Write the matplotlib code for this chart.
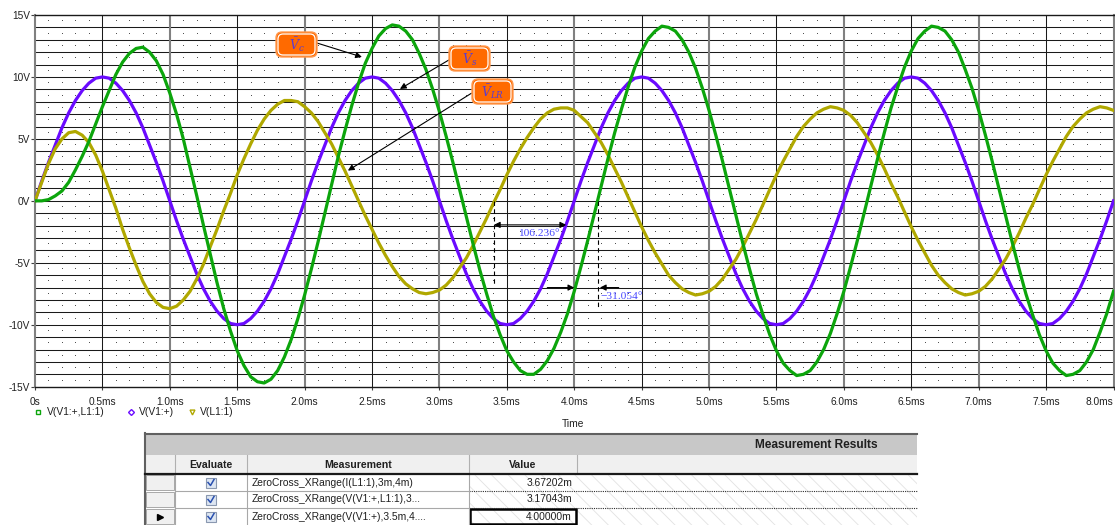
import numpy as np
import matplotlib
matplotlib.use('Agg')
import matplotlib.pyplot as plt
from matplotlib.patches import Rectangle, FancyBboxPatch

plt.rcParams['font.family'] = ['Liberation Sans', 'DejaVu Sans']
plt.rcParams['mathtext.fontset'] = 'dejavuserif'
plt.rcParams['hatch.linewidth'] = 0.6

# ---------------- data (0.05 ms steps) ----------------
time_ms = [round(i * 0.05, 2) for i in range(161)]
_period = [0.0, 1.6, 3.1, 4.5, 5.9, 7.1, 8.1, 8.9, 9.5, 9.9, 10.0, 9.9, 9.5, 8.9, 8.1, 7.1, 5.9, 4.5, 3.1, 1.6,
           0.0, -1.6, -3.1, -4.5, -5.9, -7.1, -8.1, -8.9, -9.5, -9.9, -10.0, -9.9, -9.5, -8.9, -8.1, -7.1, -5.9,
           -4.5, -3.1, -1.6]
v_source = _period * 4 + [0.0]
v_c = [0.0,0.0,0.1,0.4,0.8,1.5,2.5,3.6,4.8,6.2,7.6,8.9,10.2,11.2,11.9,12.3,12.4,12.0,11.3,10.2,8.7,7.0,5.0,2.7,0.4,
       -2.0,-4.3,-6.6,-8.7,-10.5,-12.1,-13.3,-14.2,-14.6,-14.7,-14.4,-13.7,-12.6,-11.2,-9.5,-7.6,-5.5,-3.3,-1.0,1.3,
       3.6,5.7,7.7,9.5,11.1,12.3,13.3,13.9,14.2,14.1,13.7,13.0,11.9,10.6,9.0,7.2,5.2,3.1,0.9,-1.3,-3.5,-5.6,-7.5,
       -9.3,-10.8,-12.1,-13.0,-13.7,-14.0,-14.0,-13.6,-12.9,-11.9,-10.6,-9.1,-7.3,-5.3,-3.2,-1.0,1.2,3.4,5.5,7.4,
       9.2,10.8,12.1,13.1,13.7,14.1,14.0,13.7,13.0,12.0,10.7,9.1,7.3,5.3,3.2,1.0,-1.2,-3.4,-5.5,-7.5,-9.2,-10.8,
       -12.1,-13.1,-13.7,-14.1,-14.0,-13.7,-13.0,-12.0,-10.7,-9.1,-7.3,-5.3,-3.2,-1.0,1.2,3.4,5.5,7.5,9.2,10.8,
       12.1,13.1,13.7,14.1,14.0,13.7,13.0,12.0,10.6,9.1,7.3,5.3,3.2,1.0,-1.2,-3.4,-5.5,-7.5,-9.2,-10.8,-12.1,
       -13.1,-13.7,-14.1,-14.0,-13.7,-13.0,-12.0,-10.6,-9.1,-7.3]
v_lr = [0.0,1.5,3.0,4.2,5.0,5.5,5.6,5.3,4.7,3.7,2.4,0.9,-0.6,-2.3,-3.8,-5.2,-6.5,-7.5,-8.2,-8.6,-8.7,-8.5,-8.0,-7.3,
        -6.3,-5.1,-3.7,-2.3,-0.8,0.6,2.1,3.4,4.6,5.7,6.6,7.3,7.8,8.1,8.1,8.0,7.6,7.1,6.4,5.5,4.6,3.5,2.4,1.2,0.0,
        -1.2,-2.3,-3.4,-4.4,-5.3,-6.1,-6.7,-7.1,-7.4,-7.5,-7.4,-7.2,-6.8,-6.2,-5.4,-4.6,-3.6,-2.5,-1.4,-0.2,0.9,
        2.1,3.2,4.2,5.1,5.9,6.6,7.1,7.4,7.5,7.5,7.3,6.8,6.3,5.5,4.7,3.7,2.6,1.5,0.3,-0.9,-2.1,-3.2,-4.2,-5.1,-6.0,
        -6.6,-7.1,-7.4,-7.6,-7.5,-7.3,-6.9,-6.3,-5.5,-4.7,-3.7,-2.6,-1.5,-0.3,0.9,2.1,3.2,4.2,5.2,6.0,6.6,7.1,7.4,
        7.6,7.5,7.3,6.9,6.3,5.5,4.7,3.7,2.6,1.4,0.3,-0.9,-2.1,-3.2,-4.2,-5.2,-6.0,-6.6,-7.1,-7.4,-7.6,-7.5,-7.3,
        -6.9,-6.3,-5.5,-4.7,-3.7,-2.6,-1.4,-0.3,0.9,2.1,3.2,4.2,5.2,6.0,6.6,7.1,7.4,7.6,7.5,7.3]

series_labels = ['V(V1:+,L1:1)', 'V(V1:+)', 'V(L1:1)']
x_ticks = [i * 0.5 for i in range(17)]
x_tick_labels = ['0s'] + [f'{x:.1f}ms' for x in x_ticks[1:]]
y_ticks = [-15, -10, -5, 0, 5, 10, 15]
y_tick_labels = [f'{v}V' for v in y_ticks]
phase_labels = ['106.236°', '\u221231.054°']
meas_names = ['ZeroCross_XRange(I(L1:1),3m,4m)',
              'ZeroCross_XRange(V(V1:+,L1:1),3...',
              'ZeroCross_XRange(V(V1:+),3.5m,4....']
meas_values = ['3.67202m', '3.17043m', '4.00000m']

# ---------------- figure ----------------
W, H = 1115, 525
fig = plt.figure(figsize=(W / 100, H / 100), dpi=100)
fig.patch.set_facecolor('white')
x0, x1, ytop, ybot = 35, 1113.5, 15, 386.7
ax = fig.add_axes([x0 / W, 1 - ybot / H, (x1 - x0) / W, (ybot - ytop) / H])
ax.set_xlim(0, 8)
ax.set_ylim(-15, 15)

for v in range(-14, 15):
    ax.axhline(v, color='#1a1a1a', lw=0.75, zorder=1)
for i in range(1, 16):
    xv = i * 0.5
    if i % 2:
        ax.axvline(xv, color='#1a1a1a', lw=0.75, zorder=1)
    else:
        ax.axvline(xv, color='#808080', lw=1.5, zorder=1)
dt = [k * 0.1 for k in range(1, 80) if k % 5]
dv = [j * 0.5 for j in range(-29, 30) if j % 2]
gx, gy = np.meshgrid(dt, dv)
ax.plot(gx.ravel(), gy.ravel(), ',', color='#505050', zorder=1)

for s in ['left', 'right']:
    ax.spines[s].set_color('#808080'); ax.spines[s].set_linewidth(1.5)
for s in ['top', 'bottom']:
    ax.spines[s].set_color('#1a1a1a'); ax.spines[s].set_linewidth(1.0)

ax.plot(time_ms, v_source, color='#6a0aff', lw=2.3, zorder=3)
ax.plot(time_ms, v_lr, color='#b0a800', lw=2.3, zorder=3)
ax.plot(time_ms, v_c, color='#0ca50c', lw=2.3, zorder=4)

ax.set_xticks(x_ticks)
ax.set_xticklabels(x_tick_labels)
ax.get_xticklabels()[-1].set_horizontalalignment('right')
ax.set_yticks(y_ticks)
ax.set_yticklabels(y_tick_labels)
ax.tick_params(axis='x', length=2.5, width=0.8, color='#404040', labelsize=7.3, pad=5, labelcolor='#202020')
ax.tick_params(axis='y', length=3, width=0.8, color='#404040', labelsize=7.3, pad=0.5, labelcolor='#202020')

# phase measurement annotations
ax.plot([3.404, 3.404], [0, -6.9], color='k', lw=0.8, dashes=(4, 3), zorder=5)
ax.plot([4.175, 4.175], [0, -8.6], color='k', lw=0.8, dashes=(4, 3), zorder=5)
ap = dict(color='k', lw=0.8, mutation_scale=9, shrinkA=0, shrinkB=0)
ax.annotate('', xy=(3.404, -1.94), xytext=(3.94, -1.94), arrowprops=dict(arrowstyle='<|-|>', **ap), zorder=6)
ax.annotate('', xy=(4.0, -7.0), xytext=(3.8, -7.0), arrowprops=dict(arrowstyle='-|>', **ap), zorder=6)
ax.annotate('', xy=(4.19, -7.0), xytext=(4.33, -7.0), arrowprops=dict(arrowstyle='-|>', **ap), zorder=6)
ax.text(3.737, -2.66, phase_labels[0], color='#4646ff', fontsize=8.2, family='Liberation Serif',
        ha='center', va='center', zorder=6)
ax.text(4.353, -7.74, phase_labels[1], color='#4646ff', fontsize=8.2, family='Liberation Serif',
        ha='center', va='center', zorder=6)

# pointer arrows from the labels
ax.annotate('', xy=(2.425, 11.61), xytext=(2.091, 12.74), arrowprops=dict(arrowstyle='-|>', **ap), zorder=6)
ax.annotate('', xy=(2.707, 9.03), xytext=(3.07, 11.37), arrowprops=dict(arrowstyle='-|>', **ap), zorder=6)
ax.annotate('', xy=(2.321, 2.44), xytext=(3.238, 8.69), arrowprops=dict(arrowstyle='-|>', **ap), zorder=6)

# overlay in pixel coordinates
ov = fig.add_axes([0, 0, 1, 1], facecolor='none')
ov.set_xlim(0, W); ov.set_ylim(H, 0); ov.axis('off')

for (bx, by, lab) in [(276, 32, r'$\bar{V}_{c}$'), (449, 46, r'$\bar{V}_{s}$'), (472, 79, r'$\bar{V}_{LR}$')]:
    ov.add_patch(FancyBboxPatch((bx, by), 41, 25, boxstyle='round,pad=0,rounding_size=6',
                                fc='#ff6a00', ec='#ff9a50', lw=1.0, zorder=7))
    ov.add_patch(FancyBboxPatch((bx + 2, by + 2), 37, 21, boxstyle='round,pad=0,rounding_size=5',
                                fc='none', ec='white', lw=0.9, zorder=7))
    ov.text(bx + 20.5, by + 12.5, lab, color='#5a3cd0', fontsize=9, ha='center', va='center', zorder=8)

# legend
leg_y = 412
ov.plot(38, leg_y, marker='s', ms=3.5, mfc='none', mec='#0ca50c', mew=1.0)
ov.text(47, leg_y, series_labels[0], fontsize=7.4, va='center', ha='left', color='#202020')
ov.plot(131, leg_y, marker='D', ms=3.0, mfc='none', mec='#6a0aff', mew=1.0)
ov.text(139, leg_y, series_labels[1], fontsize=7.4, va='center', ha='left', color='#202020')
ov.plot(192, leg_y, marker='v', ms=3.5, mfc='none', mec='#b0a800', mew=1.0)
ov.text(200, leg_y, series_labels[2], fontsize=7.4, va='center', ha='left', color='#202020')
ov.text(573, 424, 'Time', fontsize=7.4, ha='center', va='center', color='#202020')

# measurement results table
TL, TR = 145, 917
cols = [145, 175, 247, 469, 577, 917]
ov.add_patch(Rectangle((TL, 433), TR - TL, 22, fc='#c8c8c8', ec='none'))
ov.text(878, 444.5, 'Measurement Results', fontsize=8.6, fontweight='bold', ha='right', va='center', color='#202020')
ov.add_patch(Rectangle((TL, 455), TR - TL, 19, fc='#f0f0f0', ec='none'))
ov.plot([TL, TR], [433.5, 433.5], color='#606060', lw=1.5)
ov.plot([TL, TL], [433, 525], color='#606060', lw=1.5)
for cx in cols[1:5]:
    ov.plot([cx, cx], [455, 474], color='#b0b0b0', lw=0.8)
for txt, cx in [('Evaluate', 211), ('Measurement', 358), ('Value', 523)]:
    ov.text(cx, 464.5, txt, fontsize=7.6, fontweight='bold', ha='center', va='center', color='#202020')
rows = [474, 491, 508, 525]
ov.add_patch(Rectangle((cols[3], 474), TR - cols[3], 51, fc='white', ec='#e2e2e2', hatch='\\\\', lw=0))
for r in range(3):
    ya, yb = rows[r], rows[r + 1]
    ov.add_patch(Rectangle((cols[0] + 1, ya + 1), cols[1] - cols[0] - 2, yb - ya - 2,
                           fc='#f0f0f0', ec='#a8a8a8', lw=0.7))
    cy = (ya + yb) / 2
    ov.add_patch(Rectangle((206, cy - 5), 10, 10, fc='#dde6f2', ec='#8a98b0', lw=0.8))
    ov.plot([208, 210.5, 214], [cy, cy + 3, cy - 3], color='#2a50b0', lw=1.1)
    ov.text(252, cy, meas_names[r], fontsize=7.4, ha='left', va='center', color='#202020')
    ov.text(572, cy, meas_values[r], fontsize=7.4, ha='right', va='center', color='#202020')
    if r < 2:
        ov.plot([cols[1], cols[3]], [yb, yb], color='#a8a8a8', lw=0.8)
        ov.plot([cols[3], TR], [yb, yb], color='#303030', lw=0.8, ls=(0, (1, 1)))
for cx in cols[1:4]:
    ov.plot([cx, cx], [474, 525], color='#a8a8a8', lw=0.8)
ov.plot([TL, TR], [474, 474], color='#1a1a1a', lw=1.6)
ov.add_patch(Rectangle((cols[3] + 1, 509), cols[4] - cols[3] - 2, 15, fc='none', ec='k', lw=1.8))
ov.plot(160, 516.5, marker='>', color='k', ms=4)

fig.savefig('out.png', dpi=100, facecolor='white')
